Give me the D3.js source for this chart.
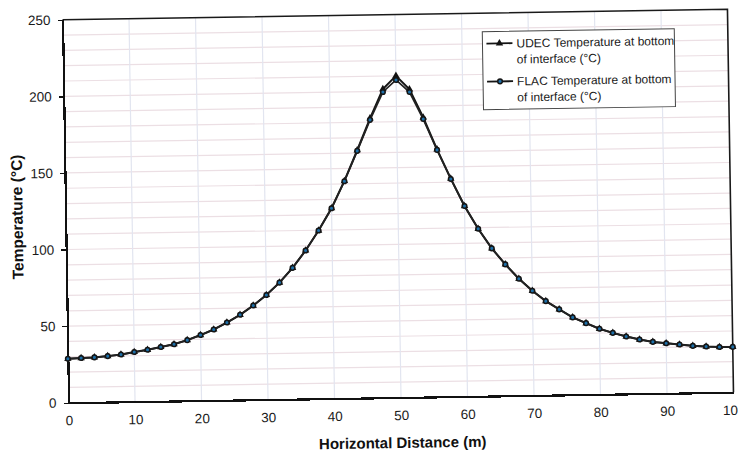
<!DOCTYPE html>
<html lang="en">
<head>
  <meta charset="UTF-8">
  <title>Temperature at bottom of interface</title>
  <script src="https://d3js.org/d3.v7.min.js"></script>
  <style>
    body {
      margin: 0;
      background: #fff;
      font-family: "Liberation Sans", Arial, sans-serif;
    }
    .axis path,
    .axis line {
      fill: none;
      shape-rendering: crispEdges;
    }
  </style>
</head>
<body>
  <div id="chart"></div>

  <script>
    // Data
    const distance = [0, 2, 4, 6, 8, 10, 12, 14, 16, 18, 20, 22, 24, 26, 28, 30, 32, 34, 36, 38, 40,
      42, 44, 46, 48, 50, 52, 54, 56, 58, 60, 62, 64, 66, 68, 70, 72, 74, 76, 78, 80,
      82, 84, 86, 88, 90, 92, 94, 96, 98, 100];

    const flacTemp = [28.7, 29.0, 29.3, 30.0, 30.9, 32.4, 33.7, 35.4, 37.1, 39.6, 42.8,
      46.3, 50.7, 55.6, 61.5, 68.3, 76.2, 85.7, 96.9, 109.8, 124.2,
      141.7, 161.4, 181.5, 199.6, 207.3, 199.3, 181.5, 161.2, 142.1, 124.3,
      109.3, 96.4, 85.8, 76.3, 68.3, 61.4, 55.9, 50.5, 46.6, 42.8,
      40.0, 37.5, 35.4, 33.7, 32.7, 31.7, 30.7, 30.1, 29.7, 29.6];

    const udecTemp = [28.7, 29.0, 29.3, 30.0, 30.9, 32.4, 33.7, 35.4, 37.1, 39.6, 42.8,
      46.3, 50.7, 55.6, 61.5, 68.3, 76.2, 85.7, 96.9, 109.8, 124.2,
      141.9, 161.8, 182.5, 201.5, 210.0, 201.0, 182.5, 161.6, 142.3, 124.3,
      109.3, 96.4, 85.8, 76.3, 68.3, 61.4, 55.9, 50.5, 46.6, 42.8,
      40.0, 37.5, 35.4, 33.7, 32.7, 31.7, 30.7, 30.1, 29.7, 29.6];

    const xTicks = [0, 10, 20, 30, 40, 50, 60, 70, 80, 90, 100];
    const yTicks = [0, 50, 100, 150, 200, 250];
    const gridX = [10, 20, 30, 40, 50, 60, 70, 80, 90];
    const gridY = [10, 20, 30, 40, 50, 60, 70, 80, 90, 100, 110, 120, 130, 140, 150, 160, 170, 180, 190,
      200, 210, 220, 230, 240];

    const seriesNames = ["UDEC Temperature at bottom|of interface (\u00B0C)",
      "FLAC Temperature at bottom|of interface (\u00B0C)"];

    const width = 738, height = 457;
    const plot = { left: 65.5, right: 730.5, top: 14.5, bottom: 397.5 };

    const svg = d3.select("#chart")
      .append("svg")
      .attr("width", width)
      .attr("height", height);

    svg.append("rect")
      .attr("width", width)
      .attr("height", height)
      .attr("fill", "#fff");

    // the scan is tilted slightly, so the whole chart is too
    const g = svg.append("g")
      .attr("transform", "rotate(-0.9, 398, 206)");

    const x = d3.scaleLinear().domain([0, 100]).range([plot.left, plot.right]);
    const y = d3.scaleLinear().domain([0, 250]).range([plot.bottom, plot.top]);

    // gridlines
    g.selectAll(".grid-y")
      .data(gridY)
      .enter().append("line")
      .attr("x1", plot.left)
      .attr("x2", plot.right)
      .attr("y1", d => y(d))
      .attr("y2", d => y(d))
      .attr("stroke", "#ecdfe4")
      .attr("stroke-width", 1.2);

    g.selectAll(".grid-x")
      .data(gridX)
      .enter().append("line")
      .attr("x1", d => x(d))
      .attr("x2", d => x(d))
      .attr("y1", plot.top)
      .attr("y2", plot.bottom)
      .attr("stroke", "#e2e5f0")
      .attr("stroke-width", 1.2);

    // frame: top and right
    g.append("path")
      .attr("d", `M${plot.left},${plot.top}H${plot.right}V${plot.bottom}`)
      .attr("fill", "none")
      .attr("stroke", "#1a1a1a")
      .attr("stroke-width", 1.6);

    // axes
    const xAxis = g.append("g")
      .attr("class", "axis")
      .attr("transform", `translate(0,${plot.bottom})`)
      .call(d3.axisBottom(x).tickValues(xTicks).tickSize(0).tickPadding(13));

    const yAxis = g.append("g")
      .attr("class", "axis")
      .attr("transform", `translate(${plot.left},0)`)
      .call(d3.axisLeft(y).tickValues(yTicks).tickSize(5).tickSizeOuter(0).tickPadding(7));

    [xAxis, yAxis].forEach(a => {
      a.select(".domain").attr("stroke", "#111").attr("stroke-width", 2.2);
      a.selectAll(".tick line").attr("stroke", "#111").attr("stroke-width", 1.4);
      a.selectAll("text")
        .attr("fill", "#1a1a1a")
        .style("font-family", "'Liberation Sans', Arial, sans-serif")
        .style("font-size", "13.5px");
    });

    // axis titles
    g.append("text")
      .attr("x", 399)
      .attr("y", 448)
      .attr("text-anchor", "middle")
      .style("font-size", "15px")
      .style("font-weight", "bold")
      .attr("fill", "#111")
      .text("Horizontal Distance (m)");

    g.append("text")
      .attr("transform", "translate(22.5,211) rotate(-90)")
      .attr("text-anchor", "middle")
      .style("font-size", "15.5px")
      .style("font-weight", "bold")
      .attr("fill", "#111")
      .text("Temperature (\u00B0C)");

    // series
    const line = d3.line()
      .x((d, i) => x(distance[i]))
      .y(d => y(d));

    const triangle = d3.symbol().type(d3.symbolTriangle).size(24);

    g.append("path")
      .datum(udecTemp)
      .attr("fill", "none")
      .attr("stroke", "#151515")
      .attr("stroke-width", 2)
      .attr("d", line);

    g.selectAll(".udec")
      .data(udecTemp)
      .enter().append("path")
      .attr("transform", (d, i) => `translate(${x(distance[i])},${y(d)})`)
      .attr("d", triangle)
      .attr("fill", "#111");

    g.append("path")
      .datum(flacTemp)
      .attr("fill", "none")
      .attr("stroke", "#222")
      .attr("stroke-width", 1.8)
      .attr("d", line);

    g.selectAll(".flac")
      .data(flacTemp)
      .enter().append("circle")
      .attr("cx", (d, i) => x(distance[i]))
      .attr("cy", d => y(d))
      .attr("r", 2.3)
      .attr("fill", "#1d6fa8")
      .attr("stroke", "#151515")
      .attr("stroke-width", 1.5);

    // legend
    const legend = g.append("g");
    legend.append("rect")
      .attr("x", 485)
      .attr("y", 33)
      .attr("width", 192)
      .attr("height", 78)
      .attr("fill", "#fff")
      .attr("stroke", "#444")
      .attr("stroke-width", 1);

    seriesNames.forEach((name, i) => {
      const ly = 45 + i * 38;
      legend.append("line")
        .attr("x1", 489).attr("x2", 515)
        .attr("y1", ly).attr("y2", ly)
        .attr("stroke", "#151515")
        .attr("stroke-width", 1.8);
      if (i === 0) {
        legend.append("path")
          .attr("transform", `translate(502,${ly})`)
          .attr("d", triangle)
          .attr("fill", "#111");
      } else {
        legend.append("circle")
          .attr("cx", 502).attr("cy", ly).attr("r", 2.3)
          .attr("fill", "#1d6fa8")
          .attr("stroke", "#151515")
          .attr("stroke-width", 1.5);
      }
      name.split("|").forEach((part, j) => {
        legend.append("text")
          .attr("x", 519)
          .attr("y", ly + 4.3 + j * 16)
          .style("font-size", "12px")
          .attr("fill", "#1a1a1a")
          .text(part);
      });
    });
  </script>
</body>
</html>
